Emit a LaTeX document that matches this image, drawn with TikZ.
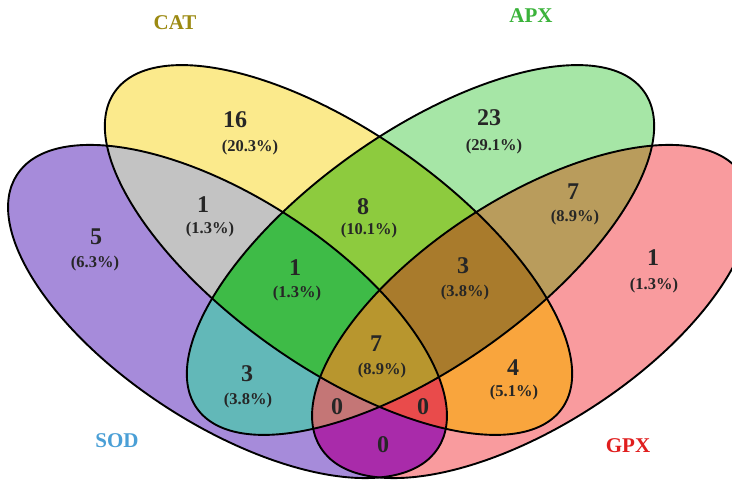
\documentclass[tikz,border=0pt]{standalone}
\usepackage{fontspec}
\setmainfont{Liberation Serif}
\definecolor{cSOD}{HTML}{A68BDA}
\definecolor{cCAT}{HTML}{FBEA8C}
\definecolor{cAPX}{HTML}{A6E6A6}
\definecolor{cGPX}{HTML}{F99B9E}
\definecolor{cSC}{HTML}{C3C3C3}
\definecolor{cCA}{HTML}{8DCB3E}
\definecolor{cAG}{HTML}{B99C5C}
\definecolor{cSA}{HTML}{62B8B8}
\definecolor{cCG}{HTML}{F9A53D}
\definecolor{cSG}{HTML}{A92BAA}
\definecolor{cSCA}{HTML}{3EBB47}
\definecolor{cCAG}{HTML}{A97B2C}
\definecolor{cSAG}{HTML}{C47676}
\definecolor{cSCG}{HTML}{E94B4B}
\definecolor{cALL}{HTML}{B8962E}
\definecolor{tCAT}{HTML}{9C8A12}
\definecolor{tAPX}{HTML}{3BB33B}
\definecolor{tSOD}{HTML}{4A9FD6}
\definecolor{tGPX}{HTML}{E01E1E}
\def\SODp{(227.5,170.5) circle [x radius=251pt, y radius=113.5pt, rotate=-33]}
\def\CATp{(338.5,232) circle [x radius=274pt, y radius=117pt, rotate=-35.3]}
\def\APXp{(420.5,232) circle [x radius=274pt, y radius=117pt, rotate=35.3]}
\def\GPXp{(531.5,170.5) circle [x radius=251pt, y radius=113.5pt, rotate=33]}
\tikzset{
  num/.style={font=\bfseries\fontsize{24}{24}\selectfont, text=black!85, inner sep=0pt},
  pct/.style={font=\bfseries\fontsize{16.5}{16.5}\selectfont, text=black!85, inner sep=0pt},
  title/.style={font=\bfseries\fontsize{21}{21}\selectfont, inner sep=0pt},
  outline/.style={draw=black, line width=1.9pt}
}
\begin{document}
\begin{tikzpicture}[x=1pt,y=1pt]
\useasboundingbox (0,0) rectangle (732,482);
\begin{scope}
\clip (0,0) rectangle (732,482);
% single sets
\fill[cSOD] \SODp;
\fill[cCAT] \CATp;
\fill[cAPX] \APXp;
\fill[cGPX] \GPXp;
% pairs
\begin{scope}\clip \SODp; \fill[cSC] \CATp; \end{scope}
\begin{scope}\clip \SODp; \fill[cSA] \APXp; \end{scope}
\begin{scope}\clip \SODp; \fill[cSG] \GPXp; \end{scope}
\begin{scope}\clip \CATp; \fill[cCA] \APXp; \end{scope}
\begin{scope}\clip \CATp; \fill[cCG] \GPXp; \end{scope}
\begin{scope}\clip \APXp; \fill[cAG] \GPXp; \end{scope}
% triples
\begin{scope}\clip \SODp; \clip \CATp; \fill[cSCA] \APXp; \end{scope}
\begin{scope}\clip \SODp; \clip \CATp; \fill[cSCG] \GPXp; \end{scope}
\begin{scope}\clip \SODp; \clip \APXp; \fill[cSAG] \GPXp; \end{scope}
\begin{scope}\clip \CATp; \clip \APXp; \fill[cCAG] \GPXp; \end{scope}
% all four
\begin{scope}\clip \SODp; \clip \CATp; \clip \APXp; \fill[cALL] \GPXp; \end{scope}
% outlines
\draw[outline] \SODp;
\draw[outline] \CATp;
\draw[outline] \APXp;
\draw[outline] \GPXp;
\end{scope}
% titles
\node[title, text=tCAT] (tcat) at (175,459) {CAT};
\node[title, text=tAPX] (tapx) at (531,466) {APX};
\node[title, text=tSOD] (tsod) at (117,41) {SOD};
\node[title, text=tGPX] (tgpx) at (628,36) {GPX};
% region labels
\node[num] (n16) at (235,362) {16};
\node[pct] (p16) at (250,334) {(20.3\%)};
\node[num] (n23) at (489,364) {23};
\node[pct] (p23) at (494,335) {(29.1\%)};
\node[num] (n5) at (96,245) {5};
\node[pct] (p5) at (95,218) {(6.3\%)};
\node[num] (nsc) at (203,277) {1};
\node[pct] (psc) at (210,252) {(1.3\%)};
\node[num] (nca) at (363,275) {8};
\node[pct] (pca) at (369,251) {(10.1\%)};
\node[num] (nag) at (573,290) {7};
\node[pct] (pag) at (575,264) {(8.9\%)};
\node[num] (ng) at (653,224) {1};
\node[pct] (pg) at (654,196) {(1.3\%)};
\node[num] (nsca) at (295,214) {1};
\node[pct] (psca) at (297,188) {(1.3\%)};
\node[num] (ncag) at (463,216) {3};
\node[pct] (pcag) at (465,189) {(3.8\%)};
\node[num] (nall) at (376,138) {7};
\node[pct] (pall) at (382,111) {(8.9\%)};
\node[num] (nsa) at (247,108) {3};
\node[pct] (psa) at (248,81) {(3.8\%)};
\node[num] (ncg) at (513,114) {4};
\node[pct] (pcg) at (514,89) {(5.1\%)};
\node[num] (nsag) at (337,75) {0};
\node[num] (nscg) at (423,75) {0};
\node[num] (nsg) at (383,37) {0};
\end{tikzpicture}
\end{document}
